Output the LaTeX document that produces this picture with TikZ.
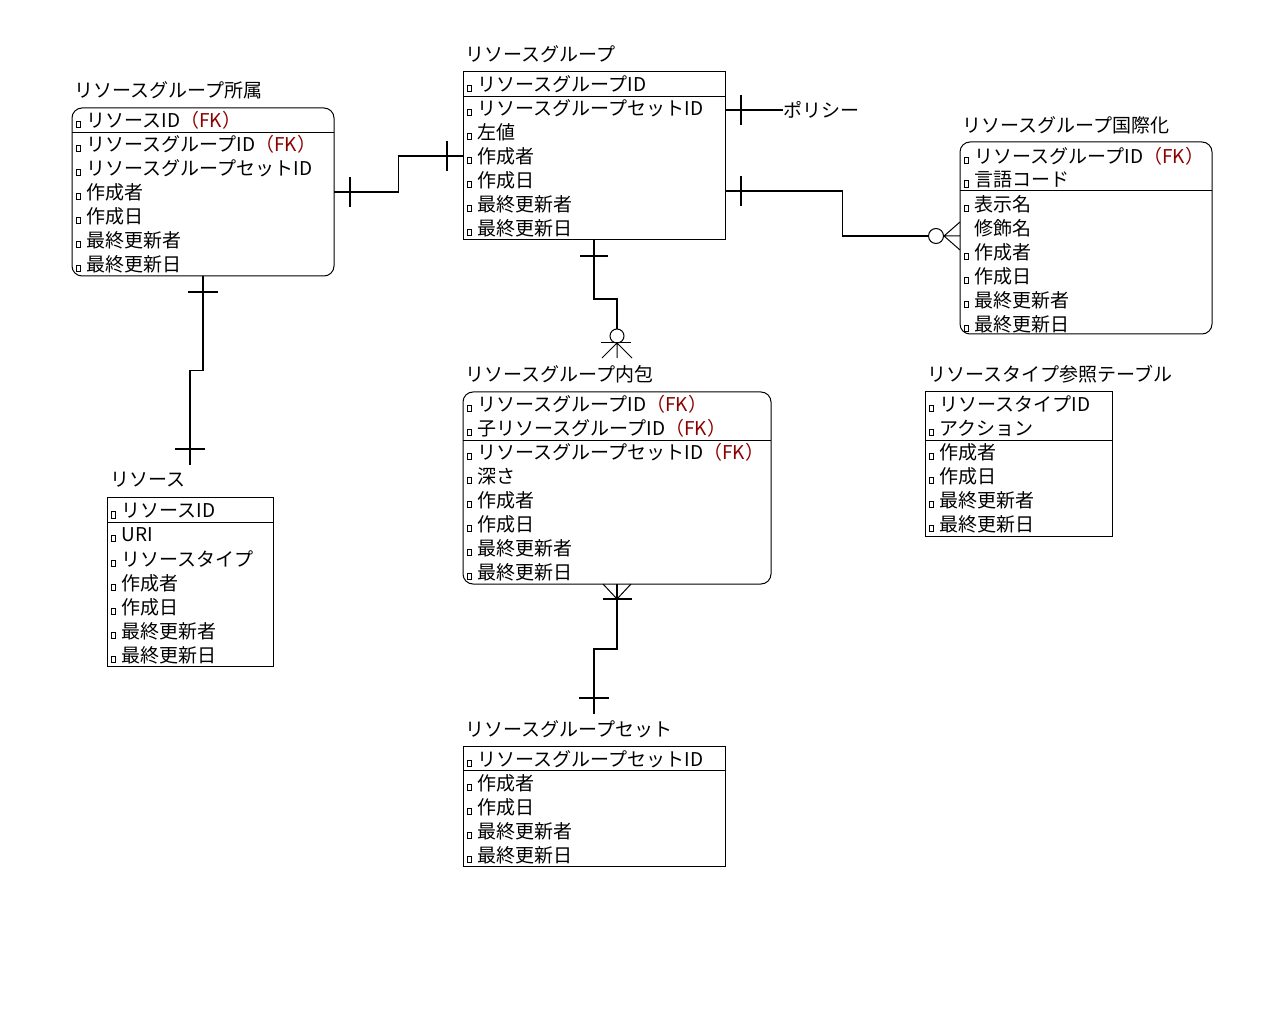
\documentclass[tikz,border=0pt]{standalone}
\usepackage{fontspec}
\setmainfont{Noto Sans CJK JP}
\usepackage{xcolor}
\usepackage{tikz}
\usetikzlibrary{calc,positioning}
\definecolor{fkred}{HTML}{8B0000}
\newcommand{\fk}{\textcolor{fkred}{（FK）}}
\newcommand{\keybox}{{\setlength{\fboxsep}{0pt}\setlength{\fboxrule}{0.5pt}\fbox{\rule{1.2pt}{0pt}\rule{0pt}{2.8pt}}}\hspace{3pt}}
\newcommand{\nokey}{\phantom{\keybox}}
\tikzset{entity/.style={draw,line width=0.5pt,anchor=north west,inner sep=0pt,outer sep=0pt},
  roundent/.style={entity,rounded corners=5pt},
  etitle/.style={anchor=west,inner sep=0pt,font=\fontsize{9.5pt}{11pt}\selectfont},
  attr/.style={anchor=west,inner sep=0pt,font=\fontsize{9.5pt}{11pt}\selectfont},
  rel/.style={line width=0.6pt},
  foot/.style={line width=0.5pt}}

\begin{document}
\begin{tikzpicture}[x=0.5pt,y=-0.5pt]
\useasboundingbox (0,0) rectangle (1280,1010);

% リソースグループ所属
\node[roundent,minimum width=131pt,minimum height=84pt] (rgm) at (72,108) {};
\node[etitle] (rgm-t) at ($(rgm.north west)+(2,-18)$) {リソースグループ所属};
\draw ($(rgm.north west)+(0,24)$) -- ($(rgm.north east)+(0,24)$);
\foreach \t [count=\i] in {\keybox リソースID\fk, \keybox リソースグループID\fk,
  \keybox リソースグループセットID, \keybox 作成者, \keybox 作成日, \keybox 最終更新者, \keybox 最終更新日}
  \node[attr] (rgm-\i) at ($(rgm.north west)+(4,24*\i-12)$) {\t};

% リソースグループ
\node[entity,minimum width=131pt,minimum height=84pt] (rg) at (463,72) {};
\node[etitle] (rg-t) at ($(rg.north west)+(2,-18)$) {リソースグループ};
\draw ($(rg.north west)+(0,24)$) -- ($(rg.north east)+(0,24)$);
\foreach \t [count=\i] in {\keybox リソースグループID, \keybox リソースグループセットID,
  \keybox 左値, \keybox 作成者, \keybox 作成日, \keybox 最終更新者, \keybox 最終更新日}
  \node[attr] (rg-\i) at ($(rg.north west)+(4,24*\i-12)$) {\t};

% リソースグループ国際化
\node[roundent,minimum width=126pt,minimum height=96pt] (rgi) at (960,142) {};
\node[etitle] (rgi-t) at ($(rgi.north west)+(2,-17)$) {リソースグループ国際化};
\draw ($(rgi.north west)+(0,48)$) -- ($(rgi.north east)+(0,48)$);
\foreach \t [count=\i] in {\keybox リソースグループID\fk, \keybox 言語コード, \keybox 表示名,
  \nokey 修飾名, \keybox 作成者, \keybox 作成日, \keybox 最終更新者, \keybox 最終更新日}
  \node[attr] (rgi-\i) at ($(rgi.north west)+(4,24*\i-10)$) {\t};

% リソースグループ内包
\node[roundent,minimum width=154pt,minimum height=96pt] (rgc) at (463,392) {};
\node[etitle] (rgc-t) at ($(rgc.north west)+(2,-18)$) {リソースグループ内包};
\draw ($(rgc.north west)+(0,48)$) -- ($(rgc.north east)+(0,48)$);
\foreach \t [count=\i] in {\keybox リソースグループID\fk, \keybox 子リソースグループID\fk,
  \keybox リソースグループセットID\fk, \keybox 深さ, \keybox 作成者, \keybox 作成日,
  \keybox 最終更新者, \keybox 最終更新日}
  \node[attr] (rgc-\i) at ($(rgc.north west)+(4,24*\i-12)$) {\t};

% リソース
\node[entity,minimum width=83pt,minimum height=84pt] (r) at (107,498) {};
\node[etitle] (r-t) at ($(r.north west)+(3,-18)$) {リソース};
\draw ($(r.north west)+(0,24)$) -- ($(r.north east)+(0,24)$);
\foreach \t [count=\i] in {\keybox リソースID, \keybox URI, \keybox リソースタイプ,
  \keybox 作成者, \keybox 作成日, \keybox 最終更新者, \keybox 最終更新日}
  \node[attr] (r-\i) at ($(r.north west)+(4,24*\i-11)$) {\t};

% リソースグループセット
\node[entity,minimum width=131pt,minimum height=60pt] (rgs) at (463,746) {};
\node[etitle] (rgs-t) at ($(rgs.north west)+(2,-17)$) {リソースグループセット};
\draw ($(rgs.north west)+(0,24)$) -- ($(rgs.north east)+(0,24)$);
\foreach \t [count=\i] in {\keybox リソースグループセットID, \keybox 作成者, \keybox 作成日,
  \keybox 最終更新者, \keybox 最終更新日}
  \node[attr] (rgs-\i) at ($(rgs.north west)+(4,24*\i-11)$) {\t};

% リソースタイプ参照テーブル
\node[entity,minimum width=93.5pt,minimum height=72pt] (rt) at (925,392) {};
\node[etitle] (rt-t) at ($(rt.north west)+(2,-18)$) {リソースタイプ参照テーブル};
\draw ($(rt.north west)+(0,48)$) -- ($(rt.north east)+(0,48)$);
\foreach \t [count=\i] in {\keybox リソースタイプID, \keybox アクション, \keybox 作成者,
  \keybox 作成日, \keybox 最終更新者, \keybox 最終更新日}
  \node[attr] (rt-\i) at ($(rt.north west)+(4,24*\i-12)$) {\t};

% 所属 -- グループ
\draw[rel] (rgm-4 -| rgm.east) -| ($(rgm.east)!.5!(rg.west)$) |- (rg-4 -| rg.west);
\draw[rel] ($(rgm-4 -| rgm.east)+(16,-15)$) -- ++(0,30);
\draw[rel] ($(rg-4 -| rg.west)+(-16,-15)$) -- ++(0,30);

% ポリシー
\node[attr] (policy) at (783,110) {ポリシー};
\draw[rel] (rg.east |- policy) -- (policy.west);
\draw[rel] ($(rg.east |- policy)+(16,-15)$) -- ++(0,30);

% グループ -- 国際化
\coordinate (c3a) at ($(rg.north east)+(0,119)$);
\coordinate (c3b) at ($(rgi.north west)+(0,94)$);
\draw[rel] (c3a) -| ($(c3a)!.5!(c3b)$) |- ($(c3b)+(-31.5,0)$);
\draw[rel] ($(c3a)+(16,-15)$) -- ++(0,30);
\draw[foot] ($(c3b)+(-24,0)$) circle[radius=3.75pt];
\draw[foot] ($(c3b)+(-16,0)$) -- (c3b) ($(c3b)+(-16,0)$) -- ($(c3b)+(0,-14)$)
  ($(c3b)+(-16,0)$) -- ($(c3b)+(0,14)$);

% グループ -- 内包
\coordinate (c4a) at (rg.south);
\coordinate (c4b) at ($(rgc.north)+(0,-34)$);
\draw[rel] (c4a) |- ($(c4a)!.5!(c4b)$) -| ($(c4b)+(0,-29)$);
\draw[rel] ($(c4a)+(-14,16)$) -- ++(28,0);
\draw[foot] ($(c4b)+(0,-22)$) circle[radius=3.5pt];
\draw[foot] ($(c4b)+(-16,-15)$) -- ++(30,0);
\draw[foot] ($(c4b)+(0,-15)$) -- (c4b) ($(c4b)+(0,-15)$) -- ($(c4b)+(-15,0)$)
  ($(c4b)+(0,-15)$) -- ($(c4b)+(15,0)$);

% 内包 -- セット
\coordinate (c5a) at (rgc.south);
\coordinate (c5b) at ($(rgs.north)+(0,-32)$);
\draw[rel] (c5a) |- ($(c5a)!.5!(c5b)$) -| (c5b);
\draw[foot] ($(c5a)+(0,15)$) -- (c5a) ($(c5a)+(0,15)$) -- ($(c5a)+(-14,0)$)
  ($(c5a)+(0,15)$) -- ($(c5a)+(14,0)$);
\draw[rel] ($(c5a)+(-14,15)$) -- ++(29,0);
\draw[rel] ($(c5b)+(-15,-16)$) -- ++(30,0);

% 所属 -- リソース
\coordinate (c6a) at (rgm.south);
\coordinate (c6b) at ($(r.north)+(0,-33)$);
\draw[rel] (c6a) |- ($(c6a)!.5!(c6b)$) -| (c6b);
\draw[rel] ($(c6a)+(-15,16)$) -- ++(30,0);
\draw[rel] ($(c6b)+(-15,-16)$) -- ++(30,0);
\end{tikzpicture}
\end{document}
